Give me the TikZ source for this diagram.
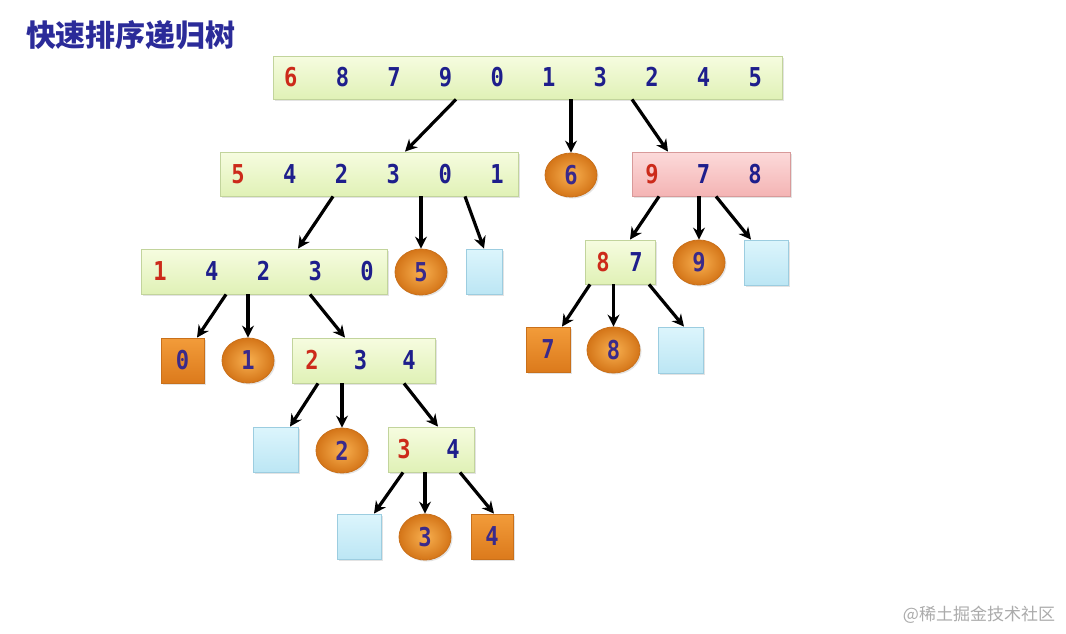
\documentclass[tikz,border=0pt]{standalone}
\usepackage{fontspec}
\usetikzlibrary{arrows.meta,shadows,shapes.geometric}
\newfontfamily\cjk{Noto Sans CJK SC}
\newfontfamily\digfont[FakeStretch=0.85]{DejaVu Sans Mono}
\definecolor{dblue}{HTML}{1E1E8C}
\definecolor{dred}{HTML}{CC2A1A}
\definecolor{dpurp}{HTML}{3A2A8A}
\definecolor{gtop}{HTML}{F6FCE0}
\definecolor{gbot}{HTML}{E0F1B6}
\definecolor{gbord}{HTML}{C2D49C}
\definecolor{ptop}{HTML}{FCDADA}
\definecolor{pbot}{HTML}{F4B4B4}
\definecolor{pbord}{HTML}{D89A9A}
\definecolor{btop}{HTML}{DCF5FC}
\definecolor{bbot}{HTML}{BCE6F4}
\definecolor{bbord}{HTML}{9CCDE0}
\definecolor{oin}{HTML}{F8B050}
\definecolor{oout}{HTML}{D47518}
\definecolor{obord}{HTML}{C9701A}
\definecolor{otop}{HTML}{F29C3A}
\definecolor{obot}{HTML}{DC7A1C}
\definecolor{titleblue}{HTML}{2B2B99}
\newcommand\Dg[2]{\makebox[#1pt]{#2}}
\newcommand\Rd[1]{\textcolor{dred}{#1}}
% row of digits centred on zero width, shifted left by #1pt
\newcommand\Row[2]{\makebox[0pt][c]{#2\hspace*{#1pt}}}
\tikzset{
  shad/.style={drop shadow={shadow xshift=1.5pt,shadow yshift=-1.5pt,opacity=0.22}},
  digs/.style={font=\digfont\bfseries\fontsize{26}{26}\selectfont, inner sep=0pt},
  gbox/.style={digs, shad, draw=gbord, line width=0.8pt, top color=gtop, bottom color=gbot, text=dblue},
  pbox/.style={digs, shad, draw=pbord, line width=0.8pt, top color=ptop, bottom color=pbot, text=dblue},
  ebox/.style={shad, draw=bbord, line width=0.8pt, top color=btop, bottom color=bbot, inner sep=0pt},
  oell/.style={digs, shad, ellipse, draw=obord, line width=0.8pt, inner color=oin, outer color=oout, text=dpurp},
  osq/.style={digs, shad, draw=obord, line width=0.8pt, top color=otop, bottom color=obot, text=dpurp},
  arr/.style={draw=black, line width=3.2pt, -{Stealth[length=12pt,width=12pt]}}
}
\begin{document}
\begin{tikzpicture}[x=1pt,y=-1pt]
\useasboundingbox[fill=white] (0,0) rectangle (1066,633);
% title
\node[font=\cjk\bfseries\fontsize{30}{30}\selectfont, text=titleblue, inner sep=0pt] (title) at (131,35) {快速排序递归树};
% level 1
\node[gbox, minimum width=509pt, minimum height=43pt] (top) at (527.5,77.5)
 {\Row{9}{\Dg{51.6}{\Rd{6}}\Dg{51.6}{8}\Dg{51.6}{7}\Dg{51.6}{9}\Dg{51.6}{0}\Dg{51.6}{1}\Dg{51.6}{3}\Dg{51.6}{2}\Dg{51.6}{4}\Dg{51.6}{5}}};
% level 2
\node[gbox, minimum width=298pt, minimum height=44pt] (a) at (369,174)
 {\Row{3}{\Dg{51.8}{\Rd{5}}\Dg{51.8}{4}\Dg{51.8}{2}\Dg{51.8}{3}\Dg{51.8}{0}\Dg{51.8}{1}}};
\node[oell, minimum width=52pt, minimum height=44pt] (e6) at (571,175) {6};
\node[pbox, minimum width=158pt, minimum height=44pt] (p) at (711,174)
 {\Row{15}{\Dg{51.5}{\Rd{9}}\Dg{51.5}{7}\Dg{51.5}{8}}};
% level 3
\node[gbox, minimum width=246pt, minimum height=45pt] (b) at (264,271.5)
 {\Row{1}{\Dg{51.75}{\Rd{1}}\Dg{51.75}{4}\Dg{51.75}{2}\Dg{51.75}{3}\Dg{51.75}{0}}};
\node[oell, minimum width=52pt, minimum height=46pt] (e5) at (421,272) {5};
\node[ebox, minimum width=36pt, minimum height=45pt] (s1) at (484,271.5) {};
\node[gbox, minimum width=70pt, minimum height=44pt] (c) at (620,262)
 {\Row{1}{\Dg{33}{\Rd{8}}\Dg{33}{7}}};
\node[oell, minimum width=52pt, minimum height=45pt] (e9) at (699,262.5) {9};
\node[ebox, minimum width=44pt, minimum height=45pt] (s2) at (766,262.5) {};
% level 4
\node[osq, minimum width=43pt, minimum height=45pt] (o0) at (182.5,360.5) {0};
\node[oell, minimum width=52pt, minimum height=45pt] (e1) at (248,360.5) {1};
\node[gbox, minimum width=143pt, minimum height=45pt] (d) at (363.5,360.5)
 {\Row{6}{\Dg{48.5}{\Rd{2}}\Dg{48.5}{3}\Dg{48.5}{4}}};
\node[osq, minimum width=44pt, minimum height=45pt] (o7) at (548,349.5) {7};
\node[oell, minimum width=53pt, minimum height=46pt] (e8) at (613.5,350) {8};
\node[ebox, minimum width=45pt, minimum height=46pt] (s3) at (680.5,350) {};
% level 5
\node[ebox, minimum width=45pt, minimum height=45pt] (s4) at (275.5,449.5) {};
\node[oell, minimum width=52pt, minimum height=45pt] (e2) at (342,450.5) {2};
\node[gbox, minimum width=86pt, minimum height=45pt] (f) at (431,449.5)
 {\Row{5}{\Dg{49}{\Rd{3}}\Dg{49}{4}}};
% level 6
\node[ebox, minimum width=44pt, minimum height=45pt] (s5) at (359,536.5) {};
\node[oell, minimum width=52pt, minimum height=46pt] (e3) at (425,537) {3};
\node[osq, minimum width=42pt, minimum height=45pt] (o4) at (492,536.5) {4};
% arrows
\draw[arr] ([xshift=-71.5pt]top.south) -- ([xshift=36pt]a.north);
\draw[arr] ([xshift=43.5pt]top.south) -- (e6.north);
\draw[arr] ([xshift=104.5pt]top.south) -- ([xshift=-43pt]p.north);
\draw[arr] ([xshift=-36pt]a.south) -- ([xshift=34pt]b.north);
\draw[arr] ([xshift=52pt]a.south) -- (e5.north);
\draw[arr] ([xshift=96pt]a.south) -- (s1.north);
\draw[arr] ([xshift=-52pt]p.south) -- ([xshift=10pt]c.north);
\draw[arr] ([xshift=-12pt]p.south) -- (e9.north);
\draw[arr] ([xshift=5pt]p.south) -- ([xshift=-15pt]s2.north);
\draw[arr] ([xshift=-38pt]b.south) -- ([xshift=14.5pt]o0.north);
\draw[arr] ([xshift=-16pt]b.south) -- (e1.north);
\draw[arr] ([xshift=46pt]b.south) -- ([xshift=-18.5pt]d.north);
\draw[arr] ([xshift=-30pt]c.south) -- ([xshift=14pt]o7.north);
\draw[arr] ([xshift=-6.5pt]c.south) -- (e8.north);
\draw[arr] ([xshift=29pt]c.south) -- ([xshift=3.5pt]s3.north);
\draw[arr] ([xshift=-45.5pt]d.south) -- ([xshift=14.5pt]s4.north);
\draw[arr] ([xshift=-21.5pt]d.south) -- (e2.north);
\draw[arr] ([xshift=40.5pt]d.south) -- ([xshift=7pt]f.north);
\draw[arr] ([xshift=-28pt]f.south) -- ([xshift=15pt]s5.north);
\draw[arr] ([xshift=-6pt]f.south) -- (e3.north);
\draw[arr] ([xshift=29pt]f.south) -- ([xshift=2pt]o4.north);
% watermark
\node[font=\cjk\fontsize{17}{17}\selectfont, text=black!33, inner sep=0pt] (wm) at (979,615) {@稀土掘金技术社区};
\end{tikzpicture}
\end{document}
